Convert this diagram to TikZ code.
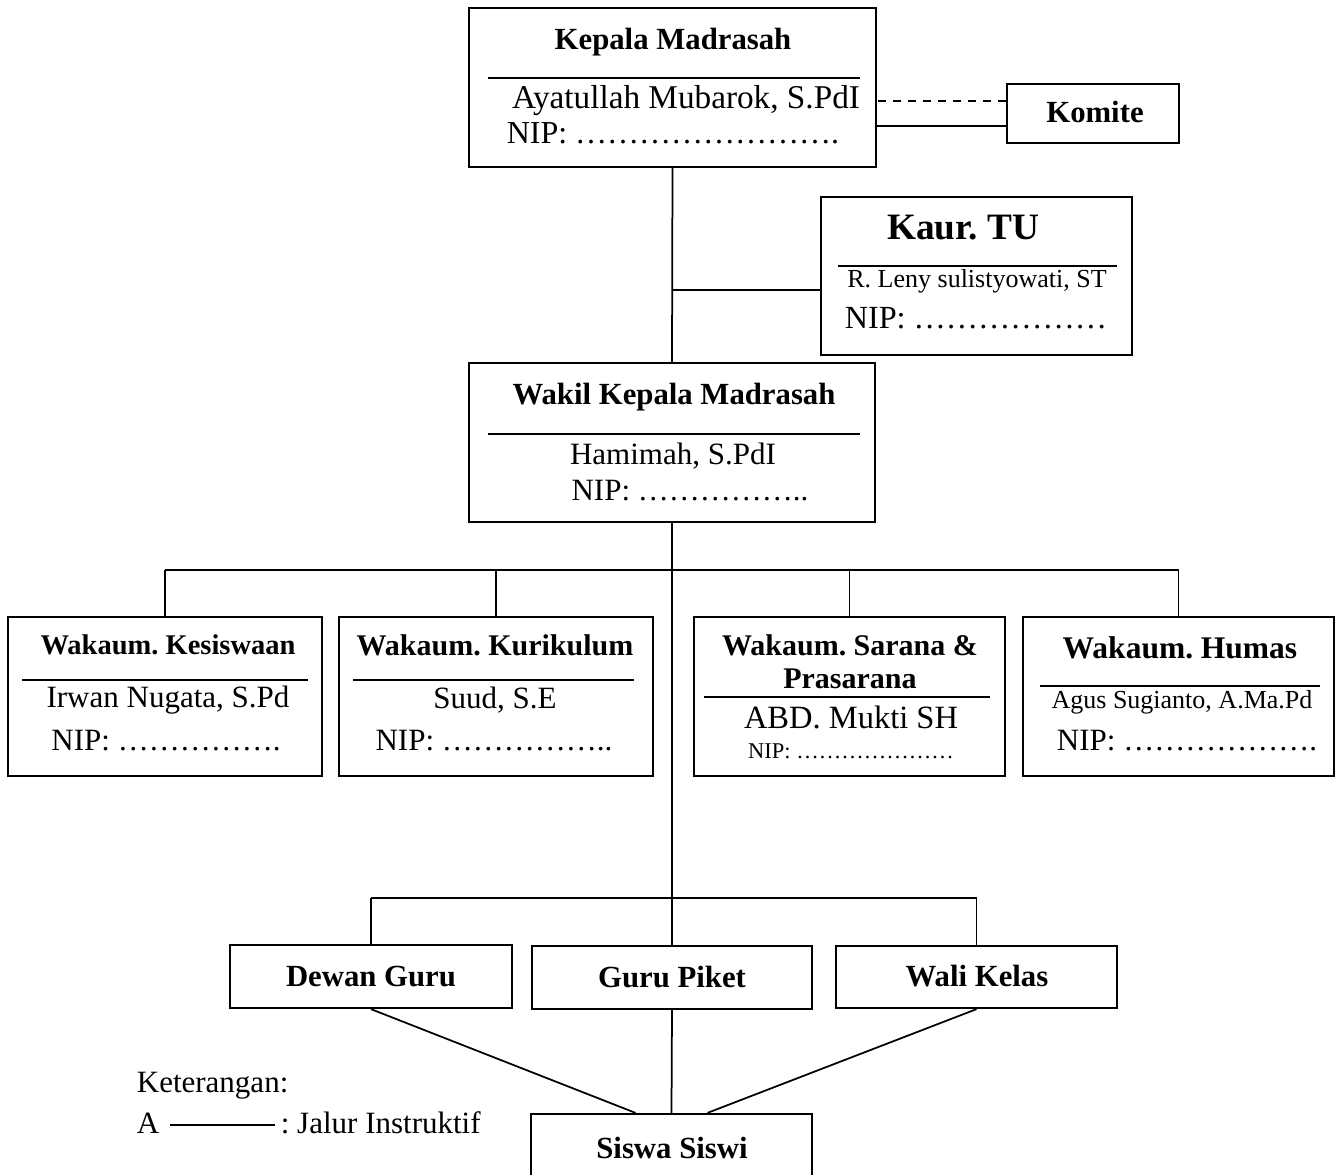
\documentclass[tikz,border=0pt]{standalone}
\usepackage{fontspec}
\setmainfont{Liberation Serif}
\usetikzlibrary{calc}
\frenchspacing

\begin{document}
\begin{tikzpicture}[x=0.4pt,y=-0.4pt,line width=0.7pt]
\tikzset{
% Boxes of the chart and the texts in them
org box/.style={draw,rectangle,inner sep=0,line width=0.9pt},
head text/.style={inner sep=0,font={\fontsize{12.3}{14}\selectfont\bfseries}},
body text/.style={inner sep=0,font={\fontsize{12.4}{14}\selectfont}},
small text/.style={inner sep=0,font={\fontsize{10.4}{12}\selectfont}},
rule/.style={line width=0.9pt}
}
\useasboundingbox (0,0) rectangle (1342,1175);

% Top: head of the madrasah, committee and administration
\node(kepala)[org box,minimum width=162.8pt,minimum height=63.6pt] at (672.5,87.5) {};
\node(kepala-t)[head text] at (673,42) {Kepala Madrasah};
\draw[rule] (488,78) -- (860,78);
\node(kepala-n)[body text,font={\fontsize{13.3}{15}\selectfont}] at (686,101) {Ayatullah Mubarok, S.PdI};
\node(kepala-p)[body text,font={\fontsize{12.8}{15}\selectfont}] at (673,133) {NIP: …………………….};

\node(komite)[org box,minimum width=68.8pt,minimum height=23.6pt,line width=1.1pt] at (1093,113.5) {};
\node(komite-t)[head text] at (1095,112) {Komite};

\node(kaur)[org box,minimum width=124.4pt,minimum height=63.2pt] at (976.5,276) {};
\node(kaur-t)[head text,font={\fontsize{14.9}{17}\selectfont\bfseries}] at (963,228) {Kaur. TU};
\draw[rule] (838,266) -- (1117,266);
\node(kaur-n)[small text] at (977,281) {R. Leny sulistyowati, ST};
\node(kaur-p)[body text,font={\fontsize{12.9}{15}\selectfont}] at (976,318) {NIP: ………………};

\node(wakil)[org box,minimum width=162.4pt,minimum height=63.6pt] at (672,442.5) {};
\node(wakil-t)[head text] at (674,397) {Wakil Kepala Madrasah};
\draw[rule] (488,434) -- (860,434);
\node(wakil-n)[body text] at (673,456) {Hamimah, S.PdI};
\node(wakil-p)[body text] at (690,491) {NIP: ……………..};

% Middle: the four deputies
\node(kesiswaan)[org box,minimum width=125.6pt,minimum height=63.6pt] at (165,696.5) {};
\node(kesiswaan-t)[head text,font={\fontsize{11.4}{13}\selectfont\bfseries}] at (168,645) {Wakaum. Kesiswaan};
\draw[rule] (22,680) -- (308,680);
\node(kesiswaan-n)[body text] at (168,700) {Irwan Nugata, S.Pd};
\node(kesiswaan-p)[body text] at (166,741) {NIP: …………….};

\node(kurikulum)[org box,minimum width=125.6pt,minimum height=63.6pt] at (496,696.5) {};
\node(kurikulum-t)[head text,font={\fontsize{12}{14}\selectfont\bfseries}] at (495,645) {Wakaum. Kurikulum};
\draw[rule] (353,680) -- (634,680);
\node(kurikulum-n)[body text] at (495,700) {Suud, S.E};
\node(kurikulum-p)[body text] at (494,741) {NIP: ……………..};

\node(sarana)[org box,minimum width=124.4pt,minimum height=63.6pt] at (849.5,696.5) {};
\node(sarana-t)[head text,font={\fontsize{12}{13.2}\selectfont\bfseries},align=center] at (850,662) {Wakaum. Sarana \&\\Prasarana};
\draw[rule] (704,697) -- (990,697);
\node(sarana-n)[body text,font={\fontsize{13}{15}\selectfont}] at (851,717) {ABD. Mukti SH};
\node(sarana-p)[small text,font={\fontsize{9}{11}\selectfont}] at (851,751) {NIP: …………………};

\node(humas)[org box,minimum width=124.4pt,minimum height=63.6pt] at (1178.5,696.5) {};
\node(humas-t)[head text,font={\fontsize{12.6}{14}\selectfont\bfseries}] at (1180,648) {Wakaum. Humas};
\draw[rule] (1040,686) -- (1320,686);
\node(humas-n)[small text] at (1182,702) {Agus Sugianto, A.Ma.Pd};
\node(humas-p)[body text] at (1187,741) {NIP: ……………….};

% Bottom: teachers and students
\node(dewan)[org box,minimum width=112.8pt,minimum height=25.2pt] at (371,976.5) {};
\node(dewan-t)[head text] at (371,976) {Dewan Guru};
\node(piket)[org box,minimum width=112pt,minimum height=25.2pt] at (672,977.5) {};
\node(piket-t)[head text] at (672,977) {Guru Piket};
\node(wali)[org box,minimum width=112.4pt,minimum height=24.8pt] at (976.5,977) {};
\node(wali-t)[head text] at (977,976) {Wali Kelas};
\node(siswa)[org box,minimum width=112.4pt,minimum height=34.4pt] at (671.5,1157) {};
\node(siswa-t)[head text] at (672,1148) {Siswa Siswi};

% Lines of the chart
\draw (kepala.south) -- (wakil.north);
\draw[dashed] ([yshift=5pt]komite.west) -- ([yshift=5pt]komite.west -| kepala.east);
\draw ([yshift=-5pt]komite.west) -- ([yshift=-5pt]komite.west -| kepala.east);
\draw ([yshift=-5.6pt]kaur.west) -- ([yshift=-5.6pt]kaur.west -| kepala.south);
\draw (wakil.south) -- (piket.north);
\coordinate (bus1) at (672,570);
\draw (kesiswaan.north |- bus1) -- (humas.north |- bus1);
\foreach \k in {kesiswaan,kurikulum,sarana,humas}
  \draw (\k.north) -- (\k.north |- bus1);
\coordinate (bus2) at (672,898);
\draw (dewan.north |- bus2) -- (wali.north |- bus2);
\draw (dewan.north) -- (dewan.north |- bus2);
\draw (wali.north) -- (wali.north |- bus2);
\draw (dewan.south) -- ([xshift=-14.4pt]siswa.north);
\draw (piket.south) -- (siswa.north);
\draw (wali.south) -- ([xshift=14.4pt]siswa.north);

% Legend
\node(ket)[body text,anchor=west] at (136,1086) {Keterangan:};
\node(leg-a)[body text,anchor=west] at (136,1123) {A};
\node(leg-t)[body text,anchor=west] at (280,1123) {: Jalur Instruktif};
\draw ([xshift=4pt,yshift=-0.8pt]leg-a.east) -- ([xshift=-2pt,yshift=-0.8pt]leg-t.west);
\end{tikzpicture}
\end{document}
